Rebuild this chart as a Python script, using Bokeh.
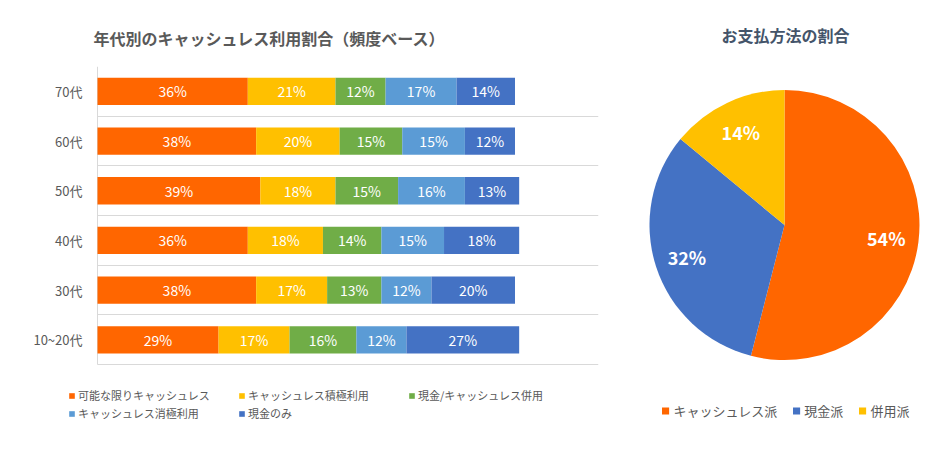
import math
from bokeh.plotting import figure
from bokeh.layouts import row
from bokeh.models import Range1d, FixedTicker, Legend, LegendItem, ColumnDataSource
from bokeh.core.properties import value
from bokeh.embed import file_html
from bokeh.resources import INLINE

# ---------------- data ----------------
ages = ["70代", "60代", "50代", "40代", "30代", "10~20代"]
series_names = ["可能な限りキャッシュレス", "キャッシュレス積極利用", "現金/キャッシュレス併用",
                "キャッシュレス消極利用", "現金のみ"]
series_colors = ["#FF6600", "#FFC000", "#70AD47", "#5B9BD5", "#4472C4"]
most_cashless = [36, 38, 39, 36, 38, 29]
active_cashless = [21, 20, 18, 18, 17, 17]
mixed_use = [12, 15, 15, 14, 13, 16]
passive_cashless = [17, 15, 16, 15, 12, 12]
cash_only = [14, 12, 13, 18, 20, 27]

pay_labels = ["キャッシュレス派", "現金派", "併用派"]
pay_values = [54, 32, 14]
pay_colors = ["#FF6600", "#4472C4", "#FFC000"]

JP = "Noto Sans CJK JP"
GRAY = "#595959"

# ---------------- stacked bar chart ----------------
n = len(ages)
ypos = [n - 1 - i + 0.5 for i in range(n)]
band_px = 299 / n           # pixel height of one category band
extra_y = 66 / band_px      # room under the bars for the legend
px_per_pct = 501 / 120      # horizontal scale of the bars
extra_x = 29 / px_per_pct   # room left of the value axis for the legend

p1 = figure(width=628, height=448, x_range=Range1d(-extra_x, 120), y_range=Range1d(-extra_y, n),
            output_backend="svg", toolbar_location=None,
            min_border_left=68, min_border_right=30, min_border_top=65, min_border_bottom=18)
p1.title.text = "年代別のキャッシュレス利用割合（頻度ベース）"
p1.title.align = "left"
p1.title.offset = 25
p1.title.standoff = 33
p1.title.text_font = JP
p1.title.text_font_size = "16px"
p1.title.text_font_style = "bold"
p1.title.text_color = GRAY
p1.outline_line_color = None

series = [most_cashless, active_cashless, mixed_use, passive_cashless, cash_only]
left = [0] * n
items = []
for name, vals, col in zip(series_names, series, series_colors):
    right = [l + v for l, v in zip(left, vals)]
    src = ColumnDataSource(dict(y=ypos, left=left, right=right,
                                mid=[(l + r) / 2 for l, r in zip(left, right)],
                                lab=[f"{v}%" for v in vals]))
    r = p1.hbar(y="y", left="left", right="right", height=0.55, source=src,
                fill_color=col, line_color=None)
    p1.text(x="mid", y="y", text="lab", source=src, text_align="center",
            text_baseline="middle", text_color="white", text_font_size="14px",
            text_font=value(JP))
    items.append(LegendItem(label=name, renderers=[r]))
    left = right

p1.xaxis.visible = False
# vertical axis line at 0 %, drawn as a bounded grid line
p1.xgrid.ticker = FixedTicker(ticks=[0])
p1.xgrid.cross_bounds = (0, n)
p1.xgrid.grid_line_color = "#D9D9D9"
# horizontal separators between the age groups
p1.ygrid.ticker = FixedTicker(ticks=list(range(n + 1)))
p1.ygrid.cross_bounds = (0, 120)
p1.ygrid.grid_line_color = "#D9D9D9"

p1.yaxis.ticker = FixedTicker(ticks=ypos)
p1.yaxis.major_label_overrides = {y: a for y, a in zip(ypos, ages)}
p1.yaxis.axis_line_color = None
p1.yaxis.major_tick_line_color = None
p1.yaxis.minor_tick_line_color = None
p1.yaxis.major_tick_out = 0
p1.yaxis.major_tick_in = 0
p1.yaxis.major_label_text_color = GRAY
p1.yaxis.major_label_text_font = JP
p1.yaxis.major_label_text_font_size = "13px"
p1.yaxis.major_label_standoff = -14

leg1 = Legend(items=items, location=(0, 8), orientation="horizontal", ncols=3,
              glyph_width=7, glyph_height=7, label_width=160, label_height=18,
              label_standoff=3, spacing=0, padding=0, margin=0,
              border_line_color=None, background_fill_alpha=0,
              label_text_font_size="11px", label_text_color=GRAY, label_text_font=JP)
p1.add_layout(leg1, "center")

# ---------------- pie chart ----------------
p2 = figure(width=314, height=448, x_range=Range1d(-156, 158), y_range=Range1d(-206, 159),
            output_backend="svg", toolbar_location=None, x_axis_type=None, y_axis_type=None,
            min_border_left=0, min_border_right=0, min_border_top=65, min_border_bottom=18)
p2.title.text = "お支払方法の割合"
p2.title.align = "center"
p2.title.standoff = 40
p2.title.text_font = JP
p2.title.text_font_size = "16px"
p2.title.text_font_style = "bold"
p2.title.text_color = "#44546A"
p2.outline_line_color = None
p2.xgrid.visible = False
p2.ygrid.visible = False

R = 135
total = sum(pay_values)
ang = math.pi / 2
starts, ends, mids = [], [], []
for v in pay_values:
    a = 2 * math.pi * v / total
    starts.append(ang)
    ends.append(ang - a)
    mids.append(ang - a / 2)
    ang -= a
psrc = ColumnDataSource(dict(start=starts, end=ends, color=pay_colors,
                             lx=[0.76 * R * math.cos(m) for m in mids],
                             ly=[0.76 * R * math.sin(m) for m in mids],
                             lab=[f"{v}%" for v in pay_values]))
wr = p2.wedge(x=0, y=0, radius=R, start_angle="start", end_angle="end", direction="clock",
              fill_color="color", line_color=None, source=psrc)
p2.text(x="lx", y="ly", text="lab", source=psrc, text_align="center", text_baseline="middle",
        text_color="white", text_font_size="18px", text_font_style="bold", text_font=value(JP))

leg2 = Legend(items=[LegendItem(label=l, renderers=[wr], index=i) for i, l in enumerate(pay_labels)],
              location="bottom_center", orientation="horizontal",
              glyph_width=9, glyph_height=9, label_height=20, label_standoff=4, spacing=14,
              padding=0, margin=10,
              border_line_color=None, background_fill_alpha=0,
              label_text_font_size="13px", label_text_color=GRAY, label_text_font=JP)
p2.add_layout(leg2, "center")

layout = row(p1, p2)
open("out.html", "w").write(file_html(layout, INLINE))
